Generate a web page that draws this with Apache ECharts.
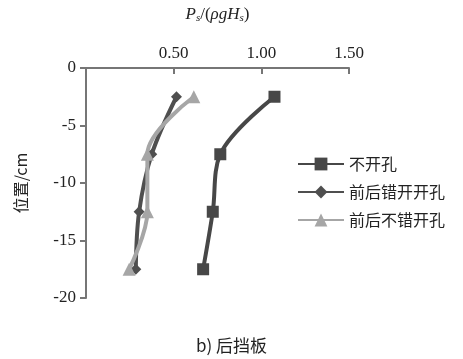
<!DOCTYPE html>
<html><head><meta charset="utf-8">
<script src="https://cdn.jsdelivr.net/npm/echarts@6/dist/echarts.min.js"></script>
<style>html,body{margin:0;padding:0;background:#fff}#c{width:463px;height:359px}</style>
</head><body><div id="c"></div>
<script>
var positions = [-2.5, -7.5, -12.5, -17.5];
var seriesNames = ['不开孔', '前后错开开孔', '前后不错开孔'];
var noHole = [1.075, 0.766, 0.723, 0.668];
var staggered = [0.516, 0.375, 0.303, 0.284];
var aligned = [0.615, 0.35, 0.35, 0.246];
var xTicks = [0, 0.5, 1.0, 1.5];
var yTicks = [0, -5, -10, -15, -20];

function pairs(xs){ return xs.map(function(v,i){ return [v, positions[i]]; }); }
var serif = '"Liberation Serif", "Times New Roman", serif';
var cjk = '"Noto Sans CJK SC", sans-serif';
var axisColor = '#767676';

var chart = echarts.init(document.getElementById('c'));
chart.setOption({
  animation: false,
  backgroundColor: '#fff',
  grid: {left: 86, top: 68, width: 263, height: 230, containLabel: false, outerBoundsMode: 'none'},
  xAxis: {
    type: 'value', position: 'top', min: 0, max: 1.5, interval: 0.5,
    axisLine: {show: true, lineStyle: {color: axisColor, width: 2}},
    axisTick: {show: true, inside: true, length: 6, lineStyle: {color: axisColor, width: 2}},
    splitLine: {show: false},
    axisLabel: {showMinLabel: false, margin: 6, color: '#222', fontFamily: serif, fontSize: 17,
      formatter: function(v){ return v.toFixed(2); }},
    name: '{i|P}{sub|s}{n|/(}{i|ρgH}{sub|s}{n|)}',
    nameLocation: 'middle', nameGap: 44,
    nameTextStyle: {rich: {
      i: {fontFamily: serif, fontStyle: 'italic', fontSize: 17, color: '#222'},
      n: {fontFamily: serif, fontSize: 17, color: '#222'},
      sub: {fontFamily: serif, fontStyle: 'italic', fontSize: 11, color: '#222', verticalAlign: 'bottom', padding: [8,0,0,0]}
    }}
  },
  yAxis: {
    type: 'value', min: -20, max: 0, interval: 5,
    axisLine: {show: true, lineStyle: {color: axisColor, width: 2}},
    axisTick: {show: true, inside: false, length: 6, lineStyle: {color: axisColor, width: 2}},
    splitLine: {show: false},
    axisLabel: {margin: 10, color: '#222', fontFamily: serif, fontSize: 17},
    name: '位置/cm', nameLocation: 'middle', nameGap: 57, nameRotate: 90,
    nameTextStyle: {fontFamily: cjk, fontSize: 16, color: '#222'}
  },
  legend: {
    orient: 'vertical', left: 292, top: 151, itemGap: 12,
    itemWidth: 46, itemHeight: 16,
    textStyle: {fontFamily: cjk, fontSize: 16, color: '#222'},
    data: seriesNames
  },
  series: [
    {name: seriesNames[0], type: 'line', smooth: 0.35, data: pairs(noHole),
      symbol: 'rect', symbolSize: 12, lineStyle: {color: '#474747', width: 4},
      itemStyle: {color: '#474747'}},
    {name: seriesNames[1], type: 'line', smooth: 0.35, data: pairs(staggered),
      symbol: 'diamond', symbolSize: 11, lineStyle: {color: '#4f4f4f', width: 4},
      itemStyle: {color: '#4f4f4f'}},
    {name: seriesNames[2], type: 'line', smooth: 0.35, data: pairs(aligned),
      symbol: 'triangle', symbolSize: 13, lineStyle: {color: '#a6a6a6', width: 4},
      itemStyle: {color: '#a6a6a6'}}
  ],
  graphic: [{
    type: 'text', left: 'center', top: 337,
    style: {text: 'b) 后挡板', font: '17px "Noto Sans CJK SC", sans-serif', fill: '#222'}
  }]
});
</script></body></html>
